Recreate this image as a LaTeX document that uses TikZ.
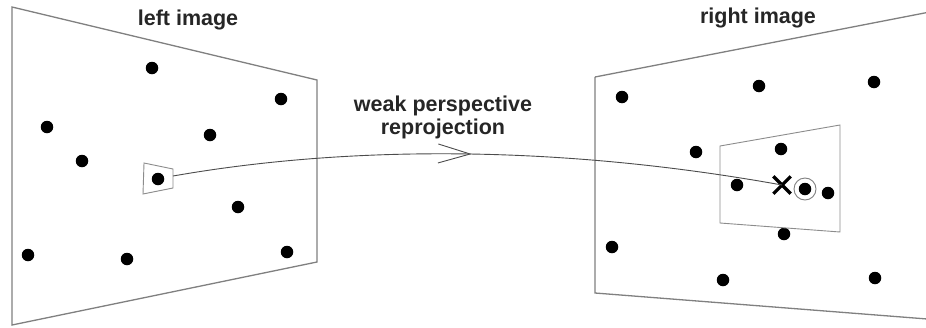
\documentclass[tikz,border=0pt]{standalone}
\usepackage{fontspec}
\setmainfont{Liberation Sans}
\usetikzlibrary{arrows.meta,decorations.markings}
\tikzset{
  frame/.style={draw=black!50, line width=1.3pt, line join=miter},
  win/.style={draw=black!45, line width=0.9pt},
  dot/.style={circle, fill=black, inner sep=0pt, minimum size=12.5pt},
  lbl/.style={font=\bfseries\fontsize{21.5}{23}\selectfont, text=black!85, align=center},
  conn/.style={draw=black!70, line width=0.9pt},
  ring/.style={circle, draw=black!50, line width=0.9pt, minimum size=22pt, inner sep=0pt},
}
\begin{document}
\begin{tikzpicture}[x=1pt,y=-1pt]
\useasboundingbox (0,0) rectangle (926,327);
\clip (0,0) rectangle (926,327);
\fill[white] (0,0) rectangle (926,327);
% left image
\draw[frame] (12,7) -- (317,80) -- (317,262) -- (12,325) -- cycle;
\node[lbl] (lt) at (188,20) {left image};
\foreach \n/\p in {l1/{152,68}, l2/{281,99}, l3/{47,127}, l4/{210,135}, l5/{82,161},
  l6/{238,207}, l7/{28,255}, l8/{127,259}, l9/{287,252}}
  \node[dot] (\n) at (\p) {};
\node[dot] (src) at (158,179) {};
\draw[win] (144,163) -- (173,169) -- (173,188) -- (143,194) -- cycle;
\coordinate (qs) at (173,176);
% right image
\draw[frame] (595,77) -- (940,10) (595,77) -- (595,293) -- (940,320);
\node[lbl] (rt) at (758,18) {right image};
\foreach \n/\p in {r1/{622,97}, r2/{759,86}, r3/{874,82}, r4/{696,152}, r5/{781,149},
  r6/{737,185}, r7/{828,193}, r8/{784,234}, r9/{612,247}, r10/{723,280}, r11/{875,278}}
  \node[dot] (\n) at (\p) {};
\node[dot] (match) at (805,189) {};
\node[ring] (ringm) at (match) {};
\draw[win] (720,146) -- (840,125) -- (840,232) -- (720,223) -- cycle;
\node[inner sep=0pt, minimum size=17pt] (cross) at (782,185) {};
\draw[black, line width=3.2pt] (cross.north west) -- (cross.south east)
  (cross.north east) -- (cross.south west);
% reprojection
\node[lbl] (rp) at (443,117) {weak perspective\\reprojection};
\draw[conn, postaction={decorate}, decoration={markings,
  mark=at position 0.49 with {\arrow[black!70, line width=0.9pt]{Straight Barb[length=32pt,width=19pt]}}}]
  (qs) .. controls (350,145) and (560,145) .. (cross.center);
\end{tikzpicture}
\end{document}
